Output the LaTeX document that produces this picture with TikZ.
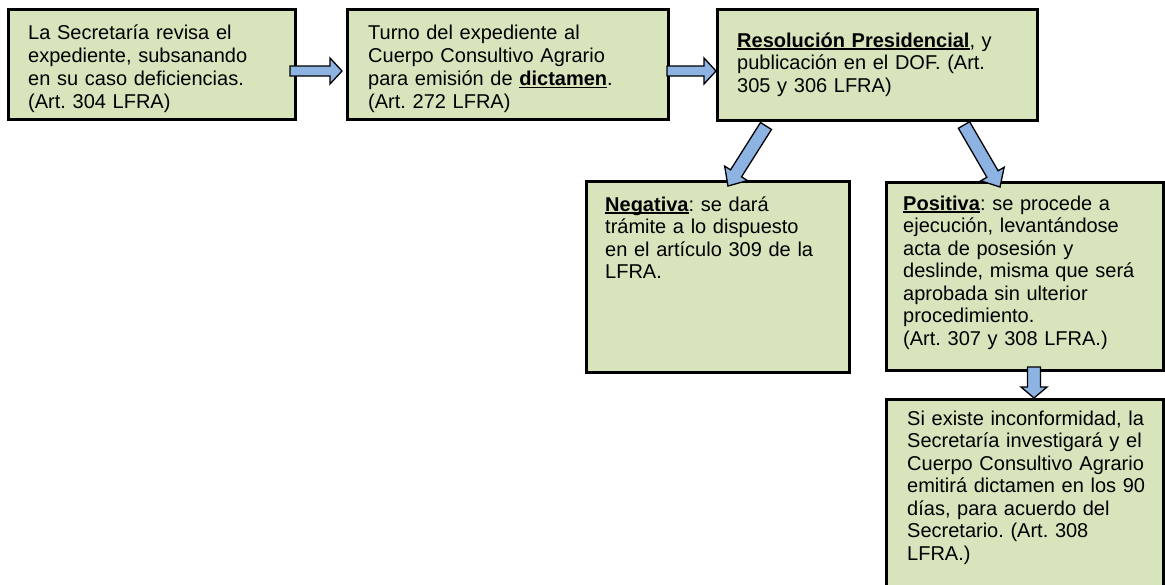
\documentclass[tikz,border=0pt]{standalone}
\usepackage{fontspec}
\setmainfont{Liberation Sans}
\frenchspacing
\usetikzlibrary{calc}
\definecolor{boxgreen}{RGB}{215,228,188}
\definecolor{arrowblue}{RGB}{141,179,226}
\newcommand{\ubf}[1]{\setbox0\hbox{\textbf{#1}}\rlap{\rule[-2.8pt]{\wd0}{1.7pt}}\box0}
% #1 tail, #2 tip, #3 shaft half width, #4 head half width, #5 head length
\newcommand{\blockarrow}[5]{%
  \coordinate (#2base) at ($(#2)!#5pt!(#1)$);
  \draw[arrowstyle] ($(#1)!#3pt!90:(#2)$) -- ($(#2base)!#3pt!90:(#2)$)
    -- ($(#2base)!#4pt!90:(#2)$) -- (#2) -- ($(#2base)!#4pt!-90:(#2)$)
    -- ($(#2base)!#3pt!-90:(#2)$) -- ($(#1)!#3pt!-90:(#2)$) -- cycle;}
\tikzset{
  box/.style={draw=black, line width=2.6pt, fill=boxgreen, rectangle, inner sep=0pt, anchor=north west},
  txt/.style={font=\fontsize{20}{22.5}\selectfont, text width=320pt, align=left, anchor=base west, inner sep=0pt},
  txtwide/.style={txt, font=\fontsize{20}{23.3}\selectfont},
  arrowstyle/.style={draw=black, line width=1.3pt, fill=arrowblue, line join=miter}
}
\begin{document}
\begin{tikzpicture}[x=1pt, y=-1pt]
\clip (0,0) rectangle (1165,584);
\fill[white] (0,0) rectangle (1165,584);
% boxes
\node[box, minimum width=287pt, minimum height=110pt] (b1) at (7,8) {};
\node[box, minimum width=321pt, minimum height=110pt] (b2) at (346,8) {};
\node[box, minimum width=320pt, minimum height=111pt] (b3) at (716,8) {};
\node[box, minimum width=263pt, minimum height=191pt] (neg) at (585,180) {};
\node[box, minimum width=277pt, minimum height=188pt] (pos) at (885,181) {};
\node[box, minimum width=277pt, minimum height=220pt] (last) at (885,398) {};
% texts
\begin{scope}
\clip (10,11) rectangle (291,114);
\node[txtwide] (t1) at (28,39) {La Secretaría revisa el\\expediente, subsanando\\en su caso deficiencias.\\(Art. 304 LFRA)};
\end{scope}
\begin{scope}
\clip (349,11) rectangle (664,114);
\node[txtwide] (t2) at (368,39) {Turno del expediente al\\Cuerpo Consultivo Agrario\\para emisión de \ubf{dictamen}.\\(Art. 272 LFRA)};
\end{scope}
\node[txt] (t3) at (737,47) {\ubf{Resolución Presidencial}, y\\publicación en el DOF. (Art.\\305 y 306 LFRA)};
\node[txt] (tneg) at (605,211) {\ubf{Negativa}: se dará\\trámite a lo dispuesto\\en el artículo 309 de la\\LFRA.};
\node[txt] (tpos) at (903,210) {\ubf{Positiva}: se procede a\\ejecución, levantándose\\acta de posesión y\\deslinde, misma que será\\aprobada sin ulterior\\procedimiento.\\(Art. 307 y 308 LFRA.)};
\node[txt] (tlast) at (907,425) {Si existe inconformidad, la\\Secretaría investigará y el\\Cuerpo Consultivo Agrario\\emitirá dictamen en los 90\\días, para acuerdo del\\Secretario. (Art. 308\\LFRA.)};
% arrow end points
\coordinate (a1t) at (290,71); \coordinate (a1h) at (342,71);
\coordinate (a2t) at (667,71); \coordinate (a2h) at (716,71);
\coordinate (a3t) at (766,126); \coordinate (a3h) at (728,186);
\coordinate (a4t) at (964,125); \coordinate (a4h) at (1000,187);
\coordinate (a5t) at (1034,367); \coordinate (a5h) at (1034,398);
\blockarrow{a1t}{a1h}{5}{13}{12}
\blockarrow{a2t}{a2h}{5}{13}{12}
\blockarrow{a3t}{a3h}{6.5}{13.5}{15}
\blockarrow{a4t}{a4h}{6.5}{13.5}{15}
\blockarrow{a5t}{a5h}{6.5}{13}{11}
\end{tikzpicture}
\end{document}
